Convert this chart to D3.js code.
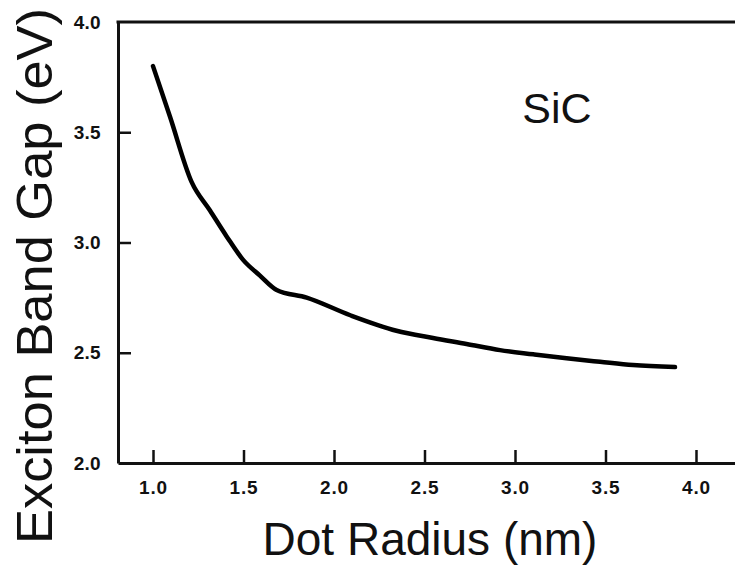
<!DOCTYPE html>
<html>
<head>
<meta charset="utf-8">
<script src="https://cdn.jsdelivr.net/npm/d3@7/dist/d3.min.js"></script>
<style>
  html, body { margin: 0; padding: 0; background: #fff; }
  svg { display: block; }
  text { font-family: "Liberation Sans", Arial, sans-serif; fill: #111; }
</style>
</head>
<body>
<svg id="chart" width="735" height="567"></svg>
<script>
// Data
const radius = [1.0, 1.094, 1.213, 1.315, 1.405, 1.499, 1.591, 1.683, 1.849, 2.09, 2.345, 2.547, 2.732, 2.917, 3.101, 3.285, 3.47, 3.652, 3.884];
const bandGap = [3.80, 3.57, 3.275, 3.145, 3.03, 2.92, 2.85, 2.785, 2.75, 2.67, 2.60, 2.567, 2.54, 2.512, 2.493, 2.475, 2.459, 2.444, 2.435];
const xTicks = [1.0, 1.5, 2.0, 2.5, 3.0, 3.5, 4.0];
const yTicks = [2.0, 2.5, 3.0, 3.5, 4.0];
const seriesLabel = "SiC";
const xTitle = "Dot Radius (nm)";
const yTitle = "Exciton Band Gap (eV)";

(function () {
const svg = d3.select("#chart");
const mLeft = 118, mRight = 735, mTop = 22, mBottom = 463;

const x = d3.scaleLinear().domain([0.8066, 4.2155]).range([mLeft, mRight]);
const y = d3.scaleLinear().domain([2.0, 4.0]).range([mBottom, mTop]);

// X axis (ticks pointing inward)
const xAxis = svg.append("g")
  .attr("transform", `translate(0,${mBottom})`)
  .call(d3.axisBottom(x).tickValues(xTicks).tickSize(-13).tickSizeOuter(0).tickPadding(20)
    .tickFormat(d3.format(".1f")));
xAxis.select(".domain").attr("stroke", "#111").attr("stroke-width", 3);
xAxis.selectAll(".tick line").attr("stroke", "#111").attr("stroke-width", 2.5);
xAxis.selectAll(".tick text")
  .attr("font-size", 19).attr("font-weight", "bold")
  .attr("font-family", "Liberation Sans, Arial, sans-serif").attr("fill", "#222")
  .attr("letter-spacing", 0.8)
  .attr("dy", "0.71em").attr("y", 18);

// Y axis (ticks pointing inward)
const yAxis = svg.append("g")
  .attr("transform", `translate(${mLeft},0)`)
  .call(d3.axisLeft(y).tickValues(yTicks).tickSize(-13).tickSizeOuter(0).tickPadding(18)
    .tickFormat(d3.format(".1f")));
yAxis.select(".domain").attr("stroke", "#111").attr("stroke-width", 3);
yAxis.selectAll(".tick line").attr("stroke", "#111").attr("stroke-width", 2.5)
  .filter(d => d === 2.0 || d === 4.0).remove();
yAxis.selectAll(".tick text")
  .attr("font-size", 19).attr("font-weight", "bold")
  .attr("font-family", "Liberation Sans, Arial, sans-serif").attr("fill", "#222")
  .attr("letter-spacing", 0.3)
  .attr("x", -17);

// Top frame line
svg.append("line")
  .attr("x1", x.range()[0] - 1.5).attr("x2", x.range()[1])
  .attr("y1", y(4.0)).attr("y2", y(4.0))
  .attr("stroke", "#111").attr("stroke-width", 3);

// Curve
const line = d3.line()
  .x((d, i) => x(radius[i]))
  .y((d, i) => y(bandGap[i]))
  .curve(d3.curveMonotoneX);
svg.append("path")
  .datum(bandGap)
  .attr("d", line)
  .attr("fill", "none")
  .attr("stroke", "#000")
  .attr("stroke-width", 4.5)
  .attr("stroke-linecap", "round")
  .attr("stroke-linejoin", "round");

// Series label
svg.append("text")
  .attr("x", 557).attr("y", 123)
  .attr("text-anchor", "middle")
  .attr("font-size", 43)
  .text(seriesLabel);

// Axis titles
svg.append("text")
  .attr("x", 430).attr("y", 555)
  .attr("text-anchor", "middle")
  .attr("font-size", 46)
  .text(xTitle);

svg.append("text")
  .attr("transform", "translate(52,276) rotate(-90)")
  .attr("text-anchor", "middle")
  .attr("font-size", 50)
  .attr("textLength", 536)
  .attr("lengthAdjust", "spacingAndGlyphs")
  .text(yTitle);
})();
</script>
</body>
</html>
